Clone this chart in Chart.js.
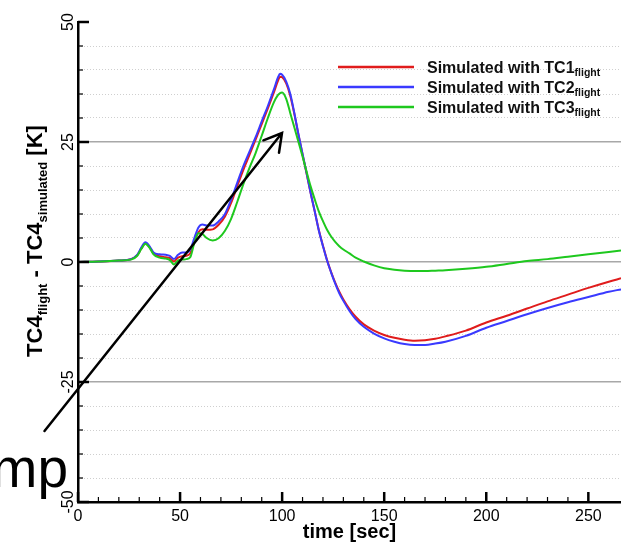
<!DOCTYPE html>
<html>
<head>
<meta charset="utf-8">
<script src="https://cdn.jsdelivr.net/npm/chart.js@4/dist/chart.umd.min.js"></script>
<style>
	html, body { margin: 0; padding: 0; background: #ffffff; }
	canvas { display: block; }
</style>
</head>
<body>
<canvas id="tc4-chart" width="621" height="545"></canvas>
<script>
// time [sec], shared by all three runs
const timeSec = [
	0, 10, 20, 26, 29, 31, 33, 35, 37, 40,
	43, 45, 47, 49, 51, 53, 55, 57, 59, 61,
	63, 66, 69, 72, 75, 78, 81, 84, 87, 90,
	93, 96, 98, 99, 100, 102, 104, 106, 108, 110,
	112, 114, 116, 118, 120, 122, 124, 126, 128, 130,
	133, 136, 140, 145, 150, 155, 160, 165, 170, 175,
	180, 190, 200, 210, 220, 230, 240, 250, 260, 266
];

// TC4 flight - TC4 simulated [K]
const simTC1 = [
	0, 0.1, 0.3, 0.6, 1.4, 2.8, 3.9, 3.1, 1.8, 1.2,
	1.0, 0.8, 0.1, 0.9, 1.2, 1.3, 1.8, 4.2, 6.2, 6.8,
	6.7, 6.8, 7.8, 9.5, 12.3, 15.8, 19.2, 22.3, 25.5, 28.7,
	32.0, 35.4, 37.8, 38.6, 38.5, 37.2, 34.6, 30.8, 26.5, 22.4,
	18.4, 14.3, 10.5, 6.6, 3.4, 0.4, -2.1, -4.3, -6.2, -7.8,
	-9.8, -11.4, -13.0, -14.3, -15.2, -15.8, -16.2, -16.4, -16.3, -16.0,
	-15.5, -14.3, -12.6, -11.2, -9.7, -8.2, -6.8, -5.4, -4.1, -3.4
];
const simTC2 = [
	0, 0.1, 0.3, 0.6, 1.5, 3.0, 4.1, 3.3, 2.0, 1.6,
	1.5, 1.3, 0.6, 1.5, 2.0, 2.0, 2.6, 5.0, 7.2, 7.8,
	7.6, 7.6, 8.5, 10.0, 13.0, 16.5, 20.0, 23.0, 26.0, 29.3,
	32.5, 36.0, 38.5, 39.2, 39.0, 37.6, 35.0, 31.0, 26.6, 22.5,
	18.5, 14.3, 10.5, 6.5, 3.3, 0.3, -2.2, -4.5, -6.5, -8.1,
	-10.2, -11.9, -13.5, -14.9, -15.9, -16.6, -17.1, -17.3, -17.3, -17.0,
	-16.6, -15.4, -13.7, -12.3, -10.9, -9.6, -8.4, -7.3, -6.2, -5.7
];
const simTC3 = [
	0, 0.1, 0.3, 0.5, 1.3, 2.7, 3.8, 3.0, 1.6, 0.9,
	0.7, 0.4, -0.5, 0.3, 0.5, 0.6, 1.0, 4.0, 6.0, 5.8,
	5.0, 4.5, 5.0, 6.5, 9.0, 12.5, 16.2, 19.6, 22.7, 26.3,
	30.0, 33.3, 34.8, 35.2, 35.3, 34.0, 31.0, 28.0, 25.0, 22.0,
	18.8, 15.7, 13.0, 10.5, 8.5, 6.7, 5.3, 4.2, 3.3, 2.6,
	1.8, 0.9, 0.1, -0.7, -1.3, -1.6, -1.8, -1.9, -1.9, -1.8,
	-1.7, -1.4, -1.0, -0.4, 0.2, 0.6, 1.1, 1.6, 2.1, 2.4
];

const seriesNames = ['Simulated with TC1', 'Simulated with TC2', 'Simulated with TC3'];
const seriesSub = 'flight';
const seriesColors = ['#e01c1c', '#3a3aff', '#1ec81e'];

const xTickLabels = [0, 50, 100, 150, 200, 250];
const yTickLabels = [50, 25, 0, -25, -50];

const FONT = '"Liberation Sans", Arial, Helvetica, sans-serif';

const toPoints = (vals) => timeSec.map((t, i) => ({x: t, y: vals[i]}));

// draws a run of [text, isSubscript] pieces starting at x, returns end x
const drawPieces = (ctx, pieces, x, y, size, subSize, subDrop) => {
	pieces.forEach(([txt, sub]) => {
		ctx.font = 'bold ' + (sub ? subSize : size) + 'px ' + FONT;
		ctx.fillText(txt, x, sub ? y + subDrop : y);
		x += ctx.measureText(txt).width;
	});
	return x;
}

const measurePieces = (ctx, pieces, size, subSize) => {
	let w = 0;
	pieces.forEach(([txt, sub]) => {
		ctx.font = 'bold ' + (sub ? subSize : size) + 'px ' + FONT;
		w += ctx.measureText(txt).width;
	});
	return w;
}

const overlay = {
	id: 'overlay',
	afterDraw(chart) {
		const ctx = chart.ctx;
		const area = chart.chartArea;
		const xs = chart.scales.x;
		const ys = chart.scales.y;
		ctx.save();
		ctx.strokeStyle = '#000';
		ctx.fillStyle = '#000';

		// inward tick marks
		chart.scales.yMinor.ticks.forEach(t => {
			const py = ys.getPixelForValue(t.value);
			const major = t.value % 25 === 0;
			ctx.lineWidth = major ? 2.5 : 1.2;
			ctx.beginPath();
			ctx.moveTo(area.left, py);
			ctx.lineTo(area.left + (major ? 11 : 5), py);
			ctx.stroke();
		});
		xs.ticks.forEach(t => {
			if (t.value % 10 !== 0) return;
			const px = xs.getPixelForValue(t.value);
			const major = t.value % 50 === 0;
			ctx.lineWidth = major ? 2.5 : 1.2;
			ctx.beginPath();
			ctx.moveTo(px, area.bottom);
			ctx.lineTo(px, area.bottom - (major ? 10 : 5));
			ctx.stroke();
		});

		// tick labels
		ctx.font = '16px ' + FONT;
		ctx.textAlign = 'center';
		ctx.textBaseline = 'alphabetic';
		xTickLabels.forEach(v => {
			ctx.fillText(String(v), xs.getPixelForValue(v), 521);
		});
		yTickLabels.forEach(v => {
			ctx.save();
			ctx.translate(73, ys.getPixelForValue(v));
			ctx.rotate(-Math.PI / 2);
			ctx.fillText(String(v), 0, 0);
			ctx.restore();
		});

		// axis titles
		ctx.textAlign = 'left';
		const xTitle = [['time [sec]', false]];
		const xw = measurePieces(ctx, xTitle, 20, 12);
		drawPieces(ctx, xTitle, (area.left + area.right) / 2 - xw / 2, 538, 20, 12, 4);

		const yTitle = [['TC4', false], ['flight', true], [' - TC4', false], ['simulated', true], [' [K]', false]];
		const yw = measurePieces(ctx, yTitle, 22, 13);
		ctx.save();
		ctx.translate(42, 241);
		ctx.rotate(-Math.PI / 2);
		drawPieces(ctx, yTitle, -yw / 2, 0, 22, 13, 5);
		ctx.restore();

		// legend
		seriesNames.forEach((name, i) => {
			const ly = 67 + 20 * i;
			ctx.strokeStyle = seriesColors[i];
			ctx.lineWidth = 2.5;
			ctx.beginPath();
			ctx.moveTo(338, ly);
			ctx.lineTo(414, ly);
			ctx.stroke();
			ctx.fillStyle = '#111';
			drawPieces(ctx, [[name, false], [seriesSub, true]], 427, ly + 6, 16, 10.5, 3);
		});

		// annotation arrow + cropped slide text
		ctx.strokeStyle = '#000';
		ctx.fillStyle = '#000';
		ctx.lineWidth = 2.5;
		ctx.lineCap = 'round';
		ctx.beginPath();
		ctx.moveTo(44.5, 431);
		ctx.lineTo(282, 133);
		ctx.moveTo(263.4, 140.3);
		ctx.lineTo(282, 133);
		ctx.lineTo(279, 152.8);
		ctx.stroke();

		ctx.font = '55px ' + FONT;
		ctx.textAlign = 'right';
		ctx.fillText('mp', 68, 487);
		ctx.restore();
	}
};

window.onload = () => {
	const ctx = document.getElementById('tc4-chart').getContext('2d');
	new Chart(ctx, {
		type: 'line',
		data: {
			datasets: [
				{label: seriesNames[0], data: toPoints(simTC1), borderColor: seriesColors[0], order: 3},
				{label: seriesNames[1], data: toPoints(simTC2), borderColor: seriesColors[1], order: 2},
				{label: seriesNames[2], data: toPoints(simTC3), borderColor: seriesColors[2], order: 1}
			]
		},
		options: {
			responsive: false,
			animation: false,
			devicePixelRatio: 1,
			layout: {padding: {left: 78, top: 22, right: 0, bottom: 43}},
			plugins: {
				legend: {display: false},
				tooltip: {enabled: false}
			},
			elements: {
				point: {radius: 0},
				line: {borderWidth: 2, cubicInterpolationMode: 'monotone', fill: false}
			},
			scales: {
				x: {
					type: 'linear',
					min: 0,
					max: 266,
					ticks: {display: false, stepSize: 10},
					grid: {display: false, drawTicks: false},
					border: {display: true, color: '#000', width: 2.5},
					afterFit: (s) => { s.height = 0; }
				},
				y: {
					type: 'linear',
					position: 'left',
					min: -50,
					max: 50,
					ticks: {display: false, stepSize: 25},
					grid: {
						drawTicks: false,
						lineWidth: 1.5,
						color: (c) => Math.abs(c.tick.value) === 50 ? 'rgba(0,0,0,0)' : '#a8a8a8'
					},
					border: {display: true, color: '#000', width: 2.5},
					afterFit: (s) => { s.width = 0; }
				},
				yMinor: {
					type: 'linear',
					position: 'left',
					min: -50,
					max: 50,
					ticks: {display: false, stepSize: 5},
					grid: {
						drawTicks: false,
						lineWidth: 1,
						borderDash: [1, 2],
						color: (c) => c.tick.value % 25 === 0 ? 'rgba(0,0,0,0)' : '#cfcfcf'
					},
					border: {display: false, dash: [1, 2]},
					afterFit: (s) => { s.width = 0; }
				}
			}
		},
		plugins: [overlay]
	});
}
</script>
</body>
</html>
